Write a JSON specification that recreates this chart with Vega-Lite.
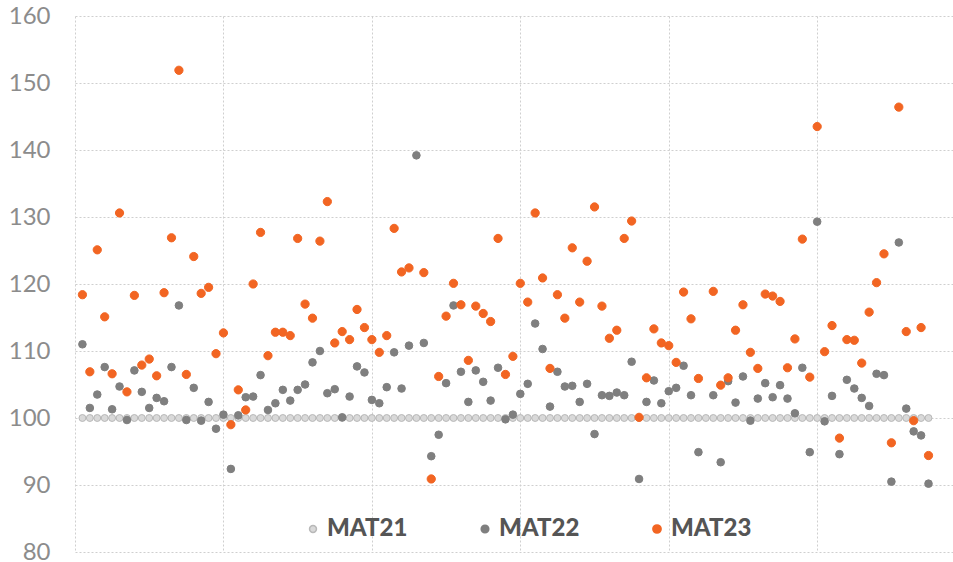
{
"$schema": "https://vega.github.io/schema/vega-lite/v6.json",
"width": 878, "height": 536,
"autosize": {"type": "none"},
"padding": {"left": 75, "top": 16, "right": 0, "bottom": 10},
"background": "white",
"config": {"view": {"stroke": null}, "font": "Lato"},
"data": {"values": [
{"x":1,"MAT21":100,"MAT22":111.0,"MAT23":118.4},
{"x":2,"MAT21":100,"MAT22":101.5,"MAT23":106.9},
{"x":3,"MAT21":100,"MAT22":103.5,"MAT23":125.1},
{"x":4,"MAT21":100,"MAT22":107.6,"MAT23":115.1},
{"x":5,"MAT21":100,"MAT22":101.3,"MAT23":106.6},
{"x":6,"MAT21":100,"MAT22":104.7,"MAT23":130.6},
{"x":7,"MAT21":100,"MAT22":99.7,"MAT23":103.9},
{"x":8,"MAT21":100,"MAT22":107.1,"MAT23":118.3},
{"x":9,"MAT21":100,"MAT22":103.9,"MAT23":107.9},
{"x":10,"MAT21":100,"MAT22":101.5,"MAT23":108.8},
{"x":11,"MAT21":100,"MAT22":103.0,"MAT23":106.3},
{"x":12,"MAT21":100,"MAT22":102.5,"MAT23":118.7},
{"x":13,"MAT21":100,"MAT22":107.6,"MAT23":126.9},
{"x":14,"MAT21":100,"MAT22":116.8,"MAT23":151.9},
{"x":15,"MAT21":100,"MAT22":99.7,"MAT23":106.5},
{"x":16,"MAT21":100,"MAT22":104.5,"MAT23":124.1},
{"x":17,"MAT21":100,"MAT22":99.6,"MAT23":118.6},
{"x":18,"MAT21":100,"MAT22":102.4,"MAT23":119.5},
{"x":19,"MAT21":100,"MAT22":98.4,"MAT23":109.6},
{"x":20,"MAT21":100,"MAT22":100.5,"MAT23":112.7},
{"x":21,"MAT21":100,"MAT22":92.4,"MAT23":99.0},
{"x":22,"MAT21":100,"MAT22":100.4,"MAT23":104.2},
{"x":23,"MAT21":100,"MAT22":103.1,"MAT23":101.2},
{"x":24,"MAT21":100,"MAT22":103.2,"MAT23":120.0},
{"x":25,"MAT21":100,"MAT22":106.4,"MAT23":127.7},
{"x":26,"MAT21":100,"MAT22":101.2,"MAT23":109.3},
{"x":27,"MAT21":100,"MAT22":102.2,"MAT23":112.8},
{"x":28,"MAT21":100,"MAT22":104.2,"MAT23":112.8},
{"x":29,"MAT21":100,"MAT22":102.6,"MAT23":112.3},
{"x":30,"MAT21":100,"MAT22":104.2,"MAT23":126.8},
{"x":31,"MAT21":100,"MAT22":105.0,"MAT23":117.0},
{"x":32,"MAT21":100,"MAT22":108.3,"MAT23":114.9},
{"x":33,"MAT21":100,"MAT22":110.0,"MAT23":126.4},
{"x":34,"MAT21":100,"MAT22":103.7,"MAT23":132.3},
{"x":35,"MAT21":100,"MAT22":104.3,"MAT23":111.2},
{"x":36,"MAT21":100,"MAT22":100.1,"MAT23":112.9},
{"x":37,"MAT21":100,"MAT22":103.2,"MAT23":111.7},
{"x":38,"MAT21":100,"MAT22":107.7,"MAT23":116.2},
{"x":39,"MAT21":100,"MAT22":106.8,"MAT23":113.5},
{"x":40,"MAT21":100,"MAT22":102.7,"MAT23":111.7},
{"x":41,"MAT21":100,"MAT22":102.2,"MAT23":109.8},
{"x":42,"MAT21":100,"MAT22":104.6,"MAT23":112.3},
{"x":43,"MAT21":100,"MAT22":109.8,"MAT23":128.3},
{"x":44,"MAT21":100,"MAT22":104.4,"MAT23":121.8},
{"x":45,"MAT21":100,"MAT22":110.8,"MAT23":122.4},
{"x":46,"MAT21":100,"MAT22":139.2,"MAT23":null},
{"x":47,"MAT21":100,"MAT22":111.2,"MAT23":121.7},
{"x":48,"MAT21":100,"MAT22":94.3,"MAT23":90.9},
{"x":49,"MAT21":100,"MAT22":97.5,"MAT23":106.2},
{"x":50,"MAT21":100,"MAT22":105.2,"MAT23":115.2},
{"x":51,"MAT21":100,"MAT22":116.8,"MAT23":120.1},
{"x":52,"MAT21":100,"MAT22":106.9,"MAT23":116.9},
{"x":53,"MAT21":100,"MAT22":102.4,"MAT23":108.6},
{"x":54,"MAT21":100,"MAT22":107.1,"MAT23":116.7},
{"x":55,"MAT21":100,"MAT22":105.4,"MAT23":115.6},
{"x":56,"MAT21":100,"MAT22":102.6,"MAT23":114.4},
{"x":57,"MAT21":100,"MAT22":107.5,"MAT23":126.8},
{"x":58,"MAT21":100,"MAT22":99.8,"MAT23":106.5},
{"x":59,"MAT21":100,"MAT22":100.5,"MAT23":109.2},
{"x":60,"MAT21":100,"MAT22":103.6,"MAT23":120.1},
{"x":61,"MAT21":100,"MAT22":105.1,"MAT23":117.3},
{"x":62,"MAT21":100,"MAT22":114.1,"MAT23":130.6},
{"x":63,"MAT21":100,"MAT22":110.3,"MAT23":120.9},
{"x":64,"MAT21":100,"MAT22":101.7,"MAT23":107.4},
{"x":65,"MAT21":100,"MAT22":106.9,"MAT23":118.4},
{"x":66,"MAT21":100,"MAT22":104.7,"MAT23":114.9},
{"x":67,"MAT21":100,"MAT22":104.8,"MAT23":125.4},
{"x":68,"MAT21":100,"MAT22":102.4,"MAT23":117.3},
{"x":69,"MAT21":100,"MAT22":105.1,"MAT23":123.4},
{"x":70,"MAT21":100,"MAT22":97.6,"MAT23":131.5},
{"x":71,"MAT21":100,"MAT22":103.4,"MAT23":116.7},
{"x":72,"MAT21":100,"MAT22":103.3,"MAT23":111.9},
{"x":73,"MAT21":100,"MAT22":103.8,"MAT23":113.1},
{"x":74,"MAT21":100,"MAT22":103.4,"MAT23":126.8},
{"x":75,"MAT21":100,"MAT22":108.4,"MAT23":129.4},
{"x":76,"MAT21":100,"MAT22":90.9,"MAT23":100.1},
{"x":77,"MAT21":100,"MAT22":102.4,"MAT23":106.0},
{"x":78,"MAT21":100,"MAT22":105.6,"MAT23":113.3},
{"x":79,"MAT21":100,"MAT22":102.2,"MAT23":111.2},
{"x":80,"MAT21":100,"MAT22":104.0,"MAT23":110.8},
{"x":81,"MAT21":100,"MAT22":104.5,"MAT23":108.3},
{"x":82,"MAT21":100,"MAT22":107.8,"MAT23":118.8},
{"x":83,"MAT21":100,"MAT22":103.4,"MAT23":114.8},
{"x":84,"MAT21":100,"MAT22":94.9,"MAT23":105.9},
{"x":85,"MAT21":100,"MAT22":null,"MAT23":null},
{"x":86,"MAT21":100,"MAT22":103.4,"MAT23":118.9},
{"x":87,"MAT21":100,"MAT22":93.4,"MAT23":104.9},
{"x":88,"MAT21":100,"MAT22":105.5,"MAT23":106.0},
{"x":89,"MAT21":100,"MAT22":102.3,"MAT23":113.1},
{"x":90,"MAT21":100,"MAT22":106.2,"MAT23":116.9},
{"x":91,"MAT21":100,"MAT22":99.6,"MAT23":109.8},
{"x":92,"MAT21":100,"MAT22":102.9,"MAT23":107.4},
{"x":93,"MAT21":100,"MAT22":105.2,"MAT23":118.5},
{"x":94,"MAT21":100,"MAT22":103.1,"MAT23":118.2},
{"x":95,"MAT21":100,"MAT22":104.9,"MAT23":117.4},
{"x":96,"MAT21":100,"MAT22":102.9,"MAT23":107.5},
{"x":97,"MAT21":100,"MAT22":100.7,"MAT23":111.8},
{"x":98,"MAT21":100,"MAT22":107.5,"MAT23":126.7},
{"x":99,"MAT21":100,"MAT22":94.9,"MAT23":106.1},
{"x":100,"MAT21":100,"MAT22":129.3,"MAT23":143.5},
{"x":101,"MAT21":100,"MAT22":99.5,"MAT23":109.9},
{"x":102,"MAT21":100,"MAT22":103.3,"MAT23":113.8},
{"x":103,"MAT21":100,"MAT22":94.6,"MAT23":97.0},
{"x":104,"MAT21":100,"MAT22":105.7,"MAT23":111.7},
{"x":105,"MAT21":100,"MAT22":104.4,"MAT23":111.6},
{"x":106,"MAT21":100,"MAT22":103.0,"MAT23":108.2},
{"x":107,"MAT21":100,"MAT22":101.8,"MAT23":115.8},
{"x":108,"MAT21":100,"MAT22":106.6,"MAT23":120.2},
{"x":109,"MAT21":100,"MAT22":106.4,"MAT23":124.5},
{"x":110,"MAT21":100,"MAT22":90.5,"MAT23":96.3},
{"x":111,"MAT21":100,"MAT22":126.2,"MAT23":146.4},
{"x":112,"MAT21":100,"MAT22":101.4,"MAT23":112.9},
{"x":113,"MAT21":100,"MAT22":98.0,"MAT23":99.6},
{"x":114,"MAT21":100,"MAT22":97.4,"MAT23":113.5},
{"x":115,"MAT21":100,"MAT22":90.2,"MAT23":94.4}
]},
"transform": [
  {"fold": ["MAT21", "MAT22", "MAT23"], "as": ["series", "value"]},
  {"filter": "datum.value != null"}
],
"mark": {"type": "point", "filled": true, "strokeWidth": 1, "opacity": 1},
"encoding": {
  "x": {"field": "x", "type": "quantitative",
        "scale": {"domain": [0, 118.3], "nice": false, "zero": false},
        "axis": {"values": [0, 20, 40, 60, 80, 100], "labels": false, "ticks": false, "domain": false, "title": null,
                 "grid": true, "gridColor": "#cfcfcf", "gridDash": [2, 2], "gridWidth": 1}},
  "y": {"field": "value", "type": "quantitative",
        "scale": {"domain": [80, 160], "nice": false, "zero": false},
        "axis": {"values": [80, 90, 100, 110, 120, 130, 140, 150, 160], "title": null, "domain": false, "ticks": false,
                 "labelFont": "Lato", "labelFontSize": 24, "labelColor": "#8c8c8c", "labelPadding": 25,
                 "grid": true, "gridColor": "#cfcfcf", "gridDash": [2, 2], "gridWidth": 1}},
  "fill": {"field": "series", "type": "nominal",
           "scale": {"domain": ["MAT21", "MAT22", "MAT23"], "range": ["#d9d9d9", "#7f7f7f", "#f26522"]},
           "legend": {"orient": "none", "legendX": 226, "legendY": 501, "direction": "horizontal", "title": null,
                      "labelFont": "Lato", "labelFontSize": 24, "labelFontWeight": 900, "labelColor": "#555555",
                      "labelOffset": 2, "columnPadding": 65, "symbolType": "circle"}},
  "stroke": {"field": "series", "type": "nominal",
             "scale": {"domain": ["MAT21", "MAT22", "MAT23"], "range": ["#b8b8b8", "#7f7f7f", "#f26522"]}},
  "size": {"field": "series", "type": "ordinal",
           "scale": {"domain": ["MAT21", "MAT22", "MAT23"], "range": [48, 68, 68]}},
  "order": {"field": "series"}
}
}
